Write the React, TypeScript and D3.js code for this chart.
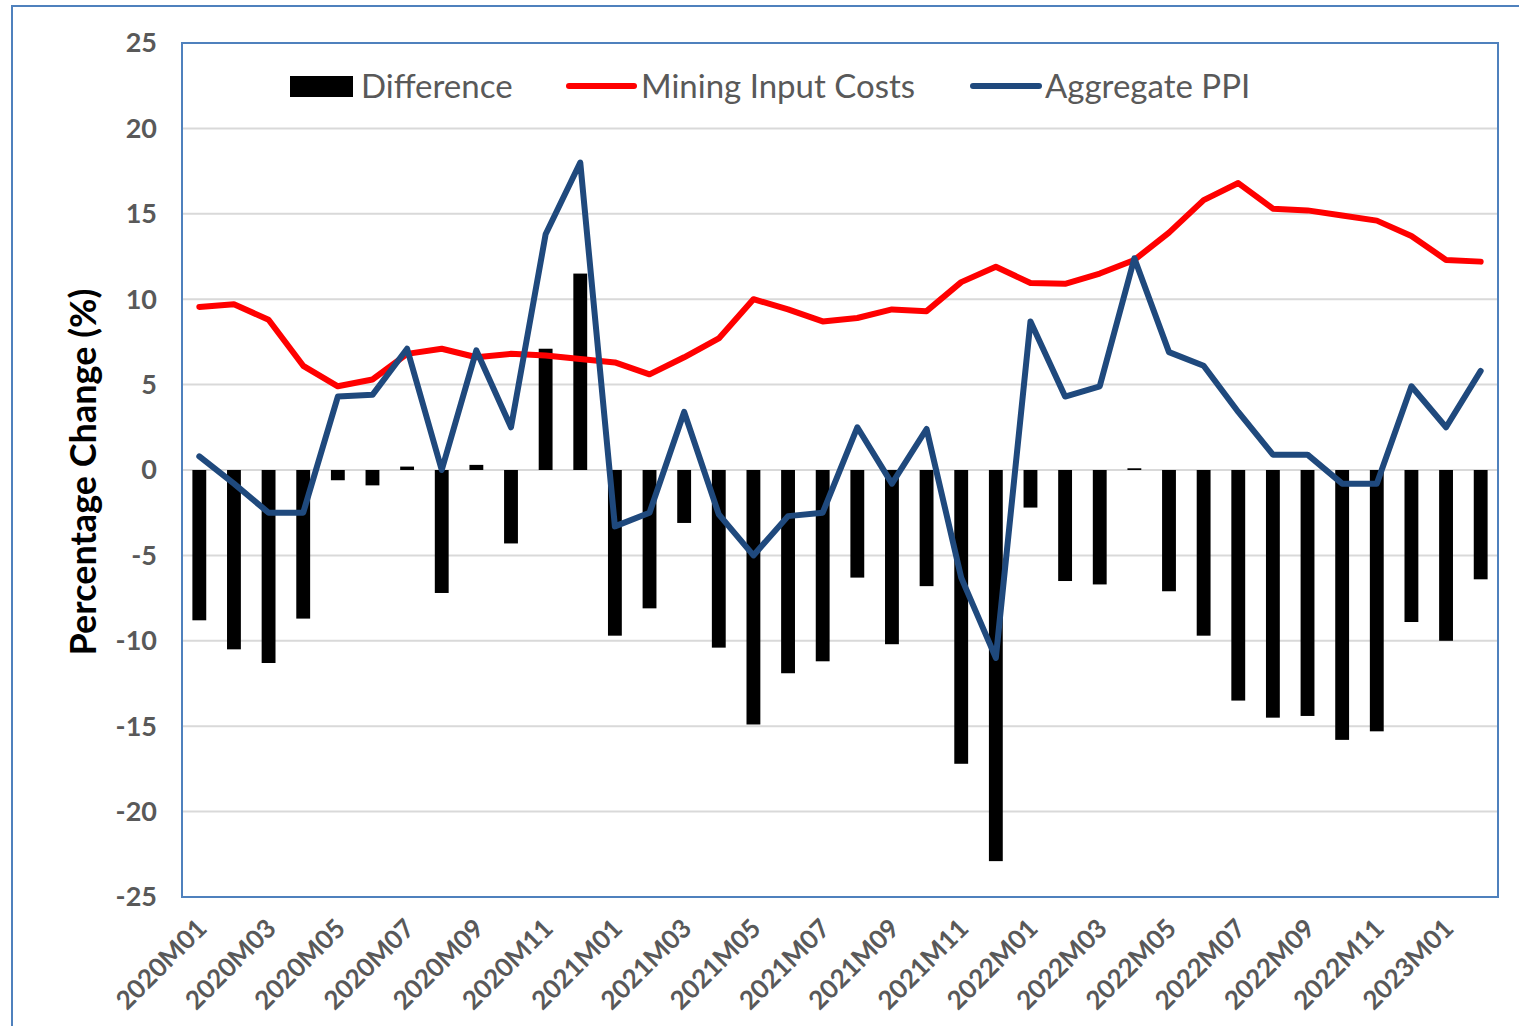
import * as d3 from "d3";
import { useEffect, useRef } from "react";

// months on the x axis
const months = [
  "2020M01", "2020M02", "2020M03", "2020M04", "2020M05", "2020M06", "2020M07", "2020M08", "2020M09", "2020M10", "2020M11", "2020M12",
  "2021M01", "2021M02", "2021M03", "2021M04", "2021M05", "2021M06", "2021M07", "2021M08", "2021M09", "2021M10", "2021M11", "2021M12",
  "2022M01", "2022M02", "2022M03", "2022M04", "2022M05", "2022M06", "2022M07", "2022M08", "2022M09", "2022M10", "2022M11", "2022M12",
  "2023M01", "2023M02"
];

const difference = [
  -8.8, -10.5, -11.3, -8.7, -0.6, -0.9, 0.2, -7.2, 0.3, -4.3, 7.1, 11.5,
  -9.7, -8.1, -3.1, -10.4, -14.9, -11.9, -11.2, -6.3, -10.2, -6.8, -17.2, -22.9,
  -2.2, -6.5, -6.7, 0.1, -7.1, -9.7, -13.5, -14.5, -14.4, -15.8, -15.3, -8.9,
  -10.0, -6.4
];

const miningInputCosts = [
  9.55, 9.7, 8.8, 6.1, 4.9, 5.3, 6.8, 7.1, 6.6, 6.8, 6.7, 6.5,
  6.3, 5.6, 6.6, 7.7, 10.0, 9.4, 8.7, 8.9, 9.4, 9.3, 11.0, 11.9,
  10.95, 10.9, 11.5, 12.3, 13.9, 15.8, 16.8, 15.3, 15.2, 14.9, 14.6, 13.7,
  12.3, 12.2
];

const aggregatePPI = [
  0.8, -0.8, -2.5, -2.5, 4.3, 4.4, 7.1, 0.0, 7.0, 2.5, 13.8, 18.0,
  -3.3, -2.5, 3.4, -2.6, -5.0, -2.7, -2.5, 2.5, -0.8, 2.4, -6.3, -11.0,
  8.7, 4.3, 4.9, 12.4, 6.9, 6.1, 3.4, 0.9, 0.9, -0.8, -0.8, 4.9,
  2.5, 5.8
];

const yTicks = [25, 20, 15, 10, 5, 0, -5, -10, -15, -20, -25];

const legendItems = ["Difference", "Mining Input Costs", "Aggregate PPI"];

export default function App() {
  const ref = useRef<SVGSVGElement>(null);

  useEffect(() => {
    const svg = d3.select(ref.current);
    svg.selectAll("*").remove();

    const W = 1519, H = 1026;
    const left = 182, right = 1498, top = 43, bottom = 897;
    const font = "Lato, 'Open Sans', sans-serif";
    const grey = "#595959";
    const frame = "#4F81BD";
    const red = "#FF0000";
    const navy = "#1F497D";

    svg.attr("width", W).attr("height", H);

    // outer chart frame
    svg.append("rect")
      .attr("x", 12).attr("y", 6)
      .attr("width", W).attr("height", H)
      .attr("fill", "white")
      .attr("stroke", frame).attr("stroke-width", 2);

    const x = d3.scaleBand().domain(months).range([left, right]).paddingInner(0.6).paddingOuter(0.3);
    const y = d3.scaleLinear().domain([-25, 25]).range([bottom, top]);
    const cx = (m: string) => (x(m) as number) + x.bandwidth() / 2;

    // gridlines
    svg.append("g")
      .selectAll("line")
      .data(yTicks.filter(t => t !== 25 && t !== -25))
      .enter().append("line")
      .attr("x1", left).attr("x2", right)
      .attr("y1", d => y(d)).attr("y2", d => y(d))
      .attr("stroke", "#D9D9D9").attr("stroke-width", 2);

    // y tick labels
    svg.append("g")
      .selectAll("text")
      .data(yTicks)
      .enter().append("text")
      .attr("x", 157)
      .attr("y", d => y(d))
      .attr("dy", "0.35em")
      .attr("text-anchor", "end")
      .attr("font-family", font).attr("font-weight", "bold").attr("font-size", 27)
      .attr("fill", grey)
      .text(d => d);

    // y axis title
    svg.append("text")
      .attr("transform", `translate(96, ${(top + bottom) / 2 + 2}) rotate(-90)`)
      .attr("text-anchor", "middle")
      .attr("font-family", font).attr("font-weight", "bold").attr("font-size", 36)
      .attr("fill", "black")
      .text("Percentage Change (%)");

    // x tick labels, every other month
    svg.append("g")
      .selectAll("text")
      .data(months.filter((_, i) => i % 2 === 0))
      .enter().append("text")
      .attr("transform", d => `translate(${cx(d) + 9}, 930) rotate(-45)`)
      .attr("text-anchor", "end")
      .attr("font-family", font).attr("font-weight", "bold").attr("font-size", 26)
      .attr("fill", grey)
      .text(d => d);

    // bars
    svg.append("g")
      .selectAll("rect")
      .data(difference)
      .enter().append("rect")
      .attr("x", (_, i) => x(months[i]) as number)
      .attr("width", x.bandwidth())
      .attr("y", d => y(Math.max(0, d)))
      .attr("height", d => Math.abs(y(d) - y(0)))
      .attr("fill", "black");

    const line = d3.line<number>()
      .x((_, i) => cx(months[i]))
      .y(d => y(d));

    svg.append("path")
      .attr("d", line(miningInputCosts))
      .attr("fill", "none").attr("stroke", red).attr("stroke-width", 6)
      .attr("stroke-linejoin", "round").attr("stroke-linecap", "round");

    svg.append("path")
      .attr("d", line(aggregatePPI))
      .attr("fill", "none").attr("stroke", navy).attr("stroke-width", 6)
      .attr("stroke-linejoin", "round").attr("stroke-linecap", "round");

    // plot area border
    svg.append("rect")
      .attr("x", left).attr("y", top)
      .attr("width", right - left).attr("height", bottom - top)
      .attr("fill", "none")
      .attr("stroke", frame).attr("stroke-width", 2);

    // legend
    const lg = svg.append("g").attr("font-family", font).attr("font-size", 33).attr("fill", grey);
    const ly = 86;
    lg.append("rect").attr("x", 290).attr("y", ly - 10).attr("width", 63).attr("height", 21).attr("fill", "black");
    lg.append("text").attr("x", 361).attr("y", ly).attr("dy", "0.35em").text(legendItems[0]);
    lg.append("line").attr("x1", 569).attr("x2", 634).attr("y1", ly).attr("y2", ly)
      .attr("stroke", red).attr("stroke-width", 6).attr("stroke-linecap", "round");
    lg.append("text").attr("x", 641).attr("y", ly).attr("dy", "0.35em").text(legendItems[1]);
    lg.append("line").attr("x1", 973).attr("x2", 1039).attr("y1", ly).attr("y2", ly)
      .attr("stroke", navy).attr("stroke-width", 6).attr("stroke-linecap", "round");
    lg.append("text").attr("x", 1045).attr("y", ly).attr("dy", "0.35em").text(legendItems[2]);
  }, []);

  return (
    <div style={{ position: "absolute", left: 0, top: 0 }}>
      <svg ref={ref} style={{ display: "block" }}></svg>
    </div>
  );
}
